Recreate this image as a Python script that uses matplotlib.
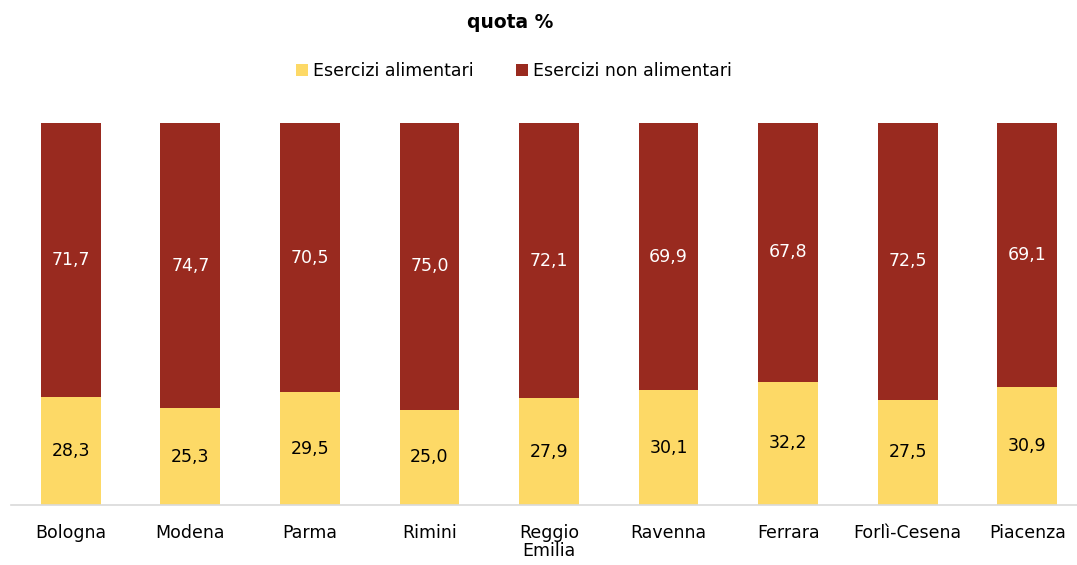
import numpy as np
import matplotlib
matplotlib.use("Agg")
import matplotlib.pyplot as plt

# quota % per provincia
province = ["Bologna", "Modena", "Parma", "Rimini", "Reggio\nEmilia",
            "Ravenna", "Ferrara", "Forlì-Cesena", "Piacenza"]
alimentari = [28.3, 25.3, 29.5, 25.0, 27.9, 30.1, 32.2, 27.5, 30.9]
non_alimentari = [71.7, 74.7, 70.5, 75.0, 72.1, 69.9, 67.8, 72.5, 69.1]

giallo = "#FDD966"
rosso = "#992A1F"

fig = plt.figure(figsize=(10.77, 5.65), dpi=100)
ax = fig.add_axes([11 / 1077, 60 / 565, 1076 / 1077, 382 / 565])

x = np.arange(len(province))
alim = np.array(alimentari)
non_alim = np.array(non_alimentari)

b1 = ax.bar(x, alim, width=0.5, color=giallo, label="Esercizi alimentari")
b2 = ax.bar(x, non_alim, width=0.5, bottom=alim, color=rosso,
            label="Esercizi non alimentari")

def fmt(v):
    return f"{v:.1f}".replace(".", ",")

for xi, a, n in zip(x, alim, non_alim):
    ax.text(xi, a / 2, fmt(a), ha="center", va="center", fontsize=12.5, color="black")
    ax.text(xi, a + n / 2, fmt(n), ha="center", va="center", fontsize=12.5, color="white")

ax.set_xlim(-0.5, 8.5)
ax.set_ylim(0, 100)
ax.set_xticks(x)
ax.set_xticklabels(province, fontsize=12.5, linespacing=1.0)
ax.tick_params(axis="x", length=0, pad=14)
ax.set_yticks([])
for s in ["top", "right", "left"]:
    ax.spines[s].set_visible(False)
ax.spines["bottom"].set_color("#D9D9D9")
ax.spines["bottom"].set_linewidth(1.2)

fig.text(510 / 1077, 1 - 22 / 565, "quota %", ha="center", va="center",
         fontsize=13.5, fontweight="bold")
fig.legend(handles=[b1, b2], loc="center", bbox_to_anchor=(514 / 1077, 1 - 71 / 565),
           ncol=2, frameon=False, fontsize=12.5, handlelength=0.7, handleheight=0.7,
           handletextpad=0.3, columnspacing=2.4)

fig.savefig("out.png", dpi=100)
